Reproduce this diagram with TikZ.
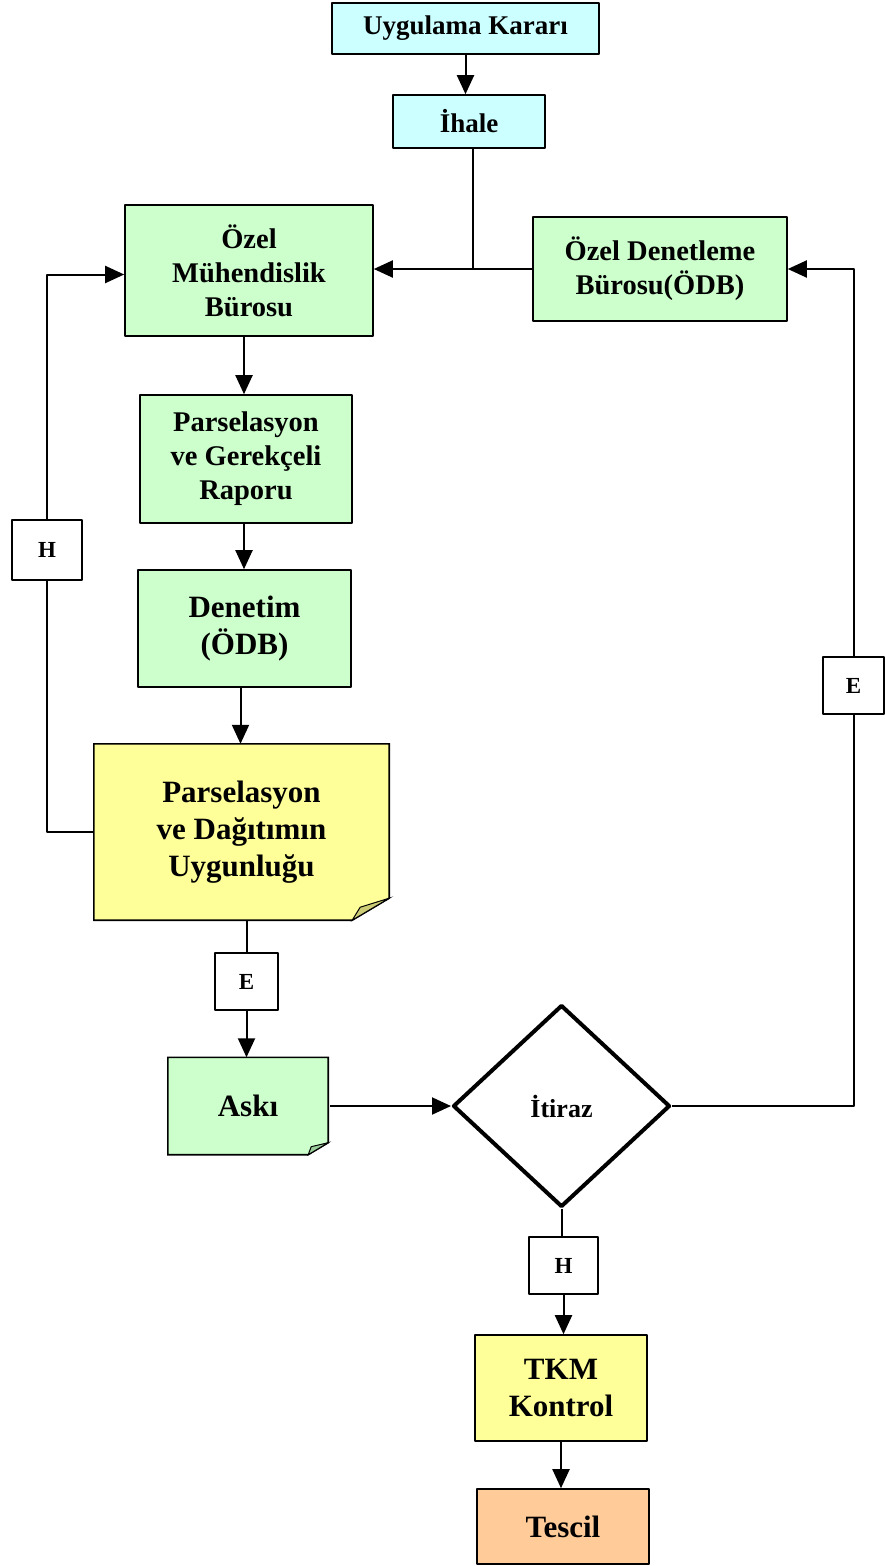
\documentclass[tikz,border=0pt]{standalone}
\usepackage{fontspec}
\setmainfont{Liberation Serif}
\usetikzlibrary{shapes.geometric,arrows.meta,backgrounds}
\definecolor{mavi}{HTML}{CCFFFF}
\definecolor{yesil}{HTML}{CCFFCC}
\definecolor{sari}{HTML}{FFFF99}
\definecolor{turuncu}{HTML}{FFCC99}
\definecolor{sarikivrim}{HTML}{CCCC77}
\definecolor{yesilkivrim}{HTML}{99CC99}
\begin{document}
\begin{tikzpicture}[x=1pt, y=-1pt, line join=round, >={Triangle[length=19pt,width=17pt]},
		kutu/.style={draw, line width=1.6pt, inner sep=0pt, align=center},
		not/.style={inner sep=0pt, align=center},
		kucuk/.style={font=\fontsize{27}{33.5}\selectfont\bfseries},
		orta/.style={font=\fontsize{28.5}{34}\selectfont\bfseries},
		buyuk/.style={font=\fontsize{31}{37}\selectfont\bfseries},
		harf/.style={kutu, fill=white, font=\fontsize{23}{26}\selectfont\bfseries},
		ok/.style={->, line width=2pt}, hat/.style={line width=2pt}]
			%\tikzset{kutu/.style={draw}}
			\useasboundingbox (0,0) rectangle (884,1566);
			\node[kutu, kucuk, fill=mavi, minimum width=267pt, minimum height=51pt] (karar) at (465.5,28.5) {Uygulama Kararı};
			\node[kutu, kucuk, fill=mavi, minimum width=152pt, minimum height=53pt] (ihale) at (469,121.5) {İhale};
			\node[kutu, orta, fill=yesil, minimum width=248pt, minimum height=131pt] (muh) at (249,270.5) {Özel\\Mühendislik\\Bürosu};
			\node[kutu, orta, fill=yesil, minimum width=254pt, minimum height=104pt] (odb) at (660,269) {Özel Denetleme\\Bürosu(ÖDB)};
			\node[kutu, orta, fill=yesil, minimum width=212pt, minimum height=128pt] (pars) at (246,459) {Parselasyon\\ve Gerekçeli\\Raporu};
			\node[kutu, buyuk, fill=yesil, minimum width=213pt, minimum height=117pt] (denetim) at (244.5,628.5) {Denetim\\(ÖDB)};
			\node[not, buyuk, minimum width=295pt, minimum height=176pt] (uygun) at (241.5,832) {Parselasyon\\ve Dağıtımın\\Uygunluğu};
			\node[harf, minimum width=63pt, minimum height=57pt] (eorta) at (246.5,981.5) {E};
			\node[not, buyuk, minimum width=160pt, minimum height=97pt] (aski) at (248,1106) {Askı};
			\node[draw, diamond, line width=4pt, fill=white, minimum width=217pt, minimum height=202pt, inner sep=0pt, font=\fontsize{26}{30}\selectfont\bfseries] (itiraz) at (561.5,1106) {İtiraz};
			\node[harf, minimum width=61pt, minimum height=57pt] (esag) at (853.5,685.5) {E};
			\node[harf, minimum width=70pt, minimum height=60pt] (hsol) at (47,550) {H};
			\node[harf, minimum width=69pt, minimum height=57pt] (halt) at (563.5,1265.5) {H};
			\node[kutu, buyuk, fill=sari, minimum width=172pt, minimum height=106pt] (tkm) at (561,1388) {TKM\\Kontrol};
			\node[kutu, buyuk, fill=turuncu, minimum width=172pt, minimum height=75pt] (tescil) at (563,1526.5) {Tescil};
			\begin{pgfonlayer}{background}
				\filldraw[fill=sari, line width=1.6pt] (uygun.north west) -- (uygun.north east) -- ([yshift=22pt]uygun.south east) -- ([xshift=-37pt]uygun.south east) -- (uygun.south west) -- cycle;
				\filldraw[fill=sarikivrim, line width=1pt] ([xshift=-37pt]uygun.south east) -- ([yshift=22pt]uygun.south east) -- ([xshift=-29pt,yshift=13pt]uygun.south east) -- cycle;
				\filldraw[fill=yesil, line width=1.6pt] (aski.north west) -- (aski.north east) -- ([yshift=12pt]aski.south east) -- ([xshift=-20pt]aski.south east) -- (aski.south west) -- cycle;
				\filldraw[fill=yesilkivrim, line width=1pt] ([xshift=-20pt]aski.south east) -- ([yshift=12pt]aski.south east) -- ([xshift=-17pt,yshift=8pt]aski.south east) -- cycle;
			\end{pgfonlayer}
			\draw[ok] (karar.south) -- (karar.south |- ihale.north);
			\draw[hat] ([xshift=4pt]ihale.south) -- ([xshift=4pt]ihale.south |- odb.west);
			\draw[ok] (odb.west) -- (odb.west -| muh.east);
			\draw[ok] ([xshift=-5pt]muh.south) -- ([xshift=-5pt]muh.south |- pars.north);
			\draw[ok] ([xshift=-2pt]pars.south) -- ([xshift=-2pt]pars.south |- denetim.north);
			\draw[ok] ([xshift=-4pt]denetim.south) -- ([xshift=-4pt]denetim.south |- uygun.north);
			\draw[hat] (uygun.west) -| (hsol.south);
			\draw[ok] (hsol.north) |- ([yshift=-4pt]muh.west);
			\draw[hat] (eorta.north |- uygun.south) -- (eorta.north);
			\draw[ok] (eorta.south) -- (eorta.south |- aski.north);
			\draw[ok] ([xshift=2pt]aski.east) -- (itiraz.west);
			\draw[hat] (itiraz.east) -| (esag.south);
			\draw[ok] (esag.north) |- (odb.east);
			\draw[hat] (itiraz.south) -- (itiraz.south |- halt.north);
			\draw[ok] (halt.south) -- (halt.south |- tkm.north);
			\draw[ok] (tkm.south) -- (tkm.south |- tescil.north);
		\end{tikzpicture}
\end{document}
